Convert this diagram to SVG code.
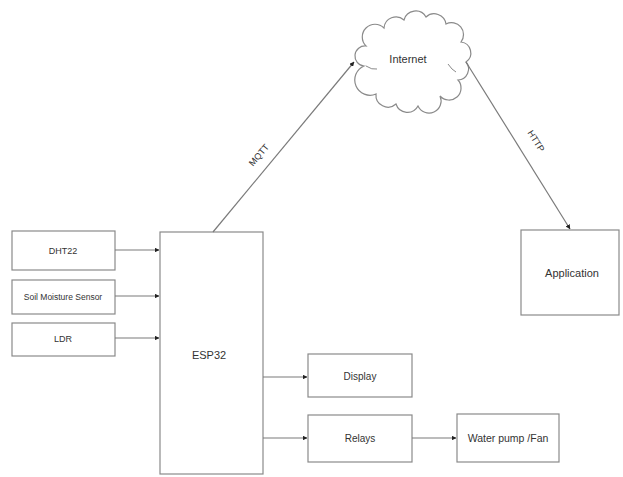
<svg xmlns="http://www.w3.org/2000/svg" width="623" height="477" viewBox="0 0 623 477">
<style>
.box{fill:#fff;stroke:#8a8a8a;stroke-width:1.2}
.lbl{font-family:"Liberation Sans",Arial,sans-serif;fill:#333;text-anchor:middle;dominant-baseline:central}
.con{stroke:#7a7a7a;stroke-width:1.2;fill:none;marker-end:url(#ah)}
</style>
<defs>
<marker id="ah" viewBox="0 0 6 6" refX="5.5" refY="3" markerWidth="4" markerHeight="4" orient="auto" markerUnits="strokeWidth">
<path d="M0,0 L6,3 L0,6 Z" fill="#222"/>
</marker>
</defs>
<rect width="623" height="477" fill="#fff"/>
<g id="cloud">
<path class="box" d="M364 66 A10 10 0 0 1 366 46 A12 12 0 0 1 384 28 A12 12 0 0 1 404 20 A12 12 0 0 1 426 17 A12 12 0 0 1 446 24 A12 12 0 0 1 461 42 A11 11 0 0 1 466 62 A11 11 0 0 1 458 80 A12 12 0 0 1 440 96 A12 12 0 0 1 418 106 A12 12 0 0 1 396 104 A12 12 0 0 1 376 94 A11 11 0 0 1 364 66 Z"/>
<path d="M366 66 Q372 70 377 69 M448 64 Q452 70 456 72" stroke="#8a8a8a" stroke-width="1" fill="none"/>
<text class="lbl" x="408" y="59" font-size="11">Internet</text>
</g>
<g id="dht22"><rect class="box" x="12" y="231" width="103" height="39"/><text class="lbl" x="63" y="251" font-size="9">DHT22</text></g>
<g id="soil"><rect class="box" x="12" y="280" width="103" height="34"/><text class="lbl" x="63" y="297" font-size="8.5">Soil Moisture Sensor</text></g>
<g id="ldr"><rect class="box" x="12" y="323" width="103" height="33"/><text class="lbl" x="63" y="339" font-size="9">LDR</text></g>
<g id="esp32"><rect class="box" x="160" y="232" width="103" height="242"/><text class="lbl" x="209" y="355" font-size="11">ESP32</text></g>
<g id="display"><rect class="box" x="308" y="354" width="104" height="43"/><text class="lbl" x="360" y="376" font-size="10">Display</text></g>
<g id="relays"><rect class="box" x="308" y="415" width="104" height="47"/><text class="lbl" x="360" y="438" font-size="10">Relays</text></g>
<g id="pump"><rect class="box" x="457" y="414" width="102" height="48"/><text class="lbl" x="508" y="438" font-size="10.5">Water pump /Fan</text></g>
<g id="application"><rect class="box" x="521" y="230" width="98" height="85"/><text class="lbl" x="572" y="273" font-size="11">Application</text></g>
<g id="connectors">
<line class="con" x1="115" y1="250" x2="159" y2="250"/>
<line class="con" x1="115" y1="296" x2="159" y2="296"/>
<line class="con" x1="115" y1="338" x2="159" y2="338"/>
<line class="con" x1="263" y1="377" x2="307" y2="377"/>
<line class="con" x1="263" y1="438" x2="307" y2="438"/>
<line class="con" x1="412" y1="438" x2="456" y2="438"/>
<line class="con" x1="213" y1="232" x2="354" y2="62"/>
<line class="con" x1="466" y1="62" x2="570" y2="229"/>
<text class="lbl" font-size="9" transform="translate(259 155) rotate(-50)">MQTT</text>
<text class="lbl" font-size="9" transform="translate(536 141) rotate(58)">HTTP</text>
</g>
</svg>
